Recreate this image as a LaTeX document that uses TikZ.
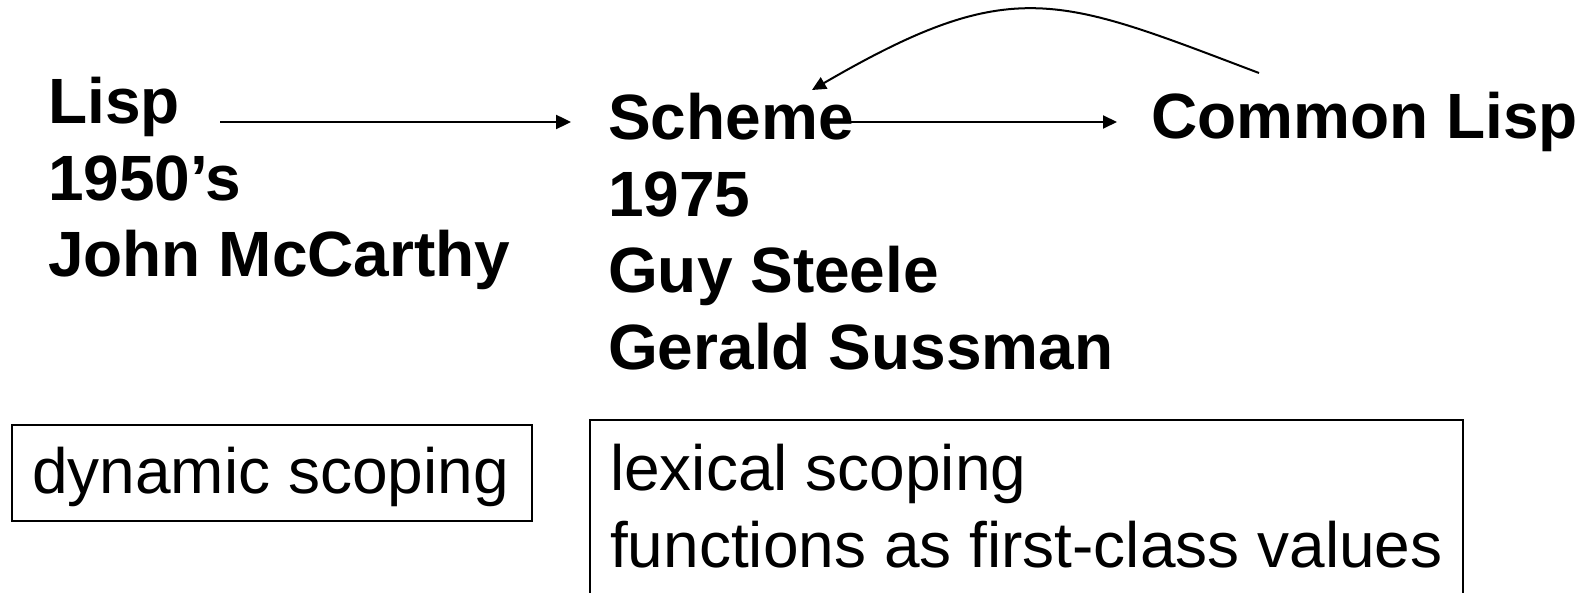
\documentclass[tikz,border=0pt]{standalone}
\usepackage{fontspec}
\setmainfont{Liberation Sans}
\usetikzlibrary{arrows.meta}
\begin{document}
\begin{tikzpicture}[x=1pt,y=1pt,
  bigtxt/.style={anchor=base west, inner sep=0pt, font=\fontsize{64}{76}\selectfont\bfseries},
  plaintxt/.style={anchor=base west, inner sep=0pt, font=\fontsize{64}{76}\selectfont},
  arr/.style={-{Triangle[length=15pt,width=14pt]}, line width=2.4pt},
  thinarr/.style={-{Triangle[length=14pt,width=13pt]}, line width=2pt},
  boxline/.style={line width=2.2pt}]
\useasboundingbox (0,0) rectangle (1585,592);
% Lisp block
\node[bigtxt] (lisp1) at (48,468) {Lisp};
\node[bigtxt] (lisp2) at (48,391) {1950’s};
\node[bigtxt] (lisp3) at (48,315) {John McCarthy};
% Scheme block
\node[bigtxt] (sch1) at (608,452) {Scheme};
\node[bigtxt] (sch2) at (608,375) {1975};
\node[bigtxt] (sch3) at (608,299) {Guy Steele};
\node[bigtxt] (sch4) at (608,222) {Gerald Sussman};
% Common Lisp
\node[bigtxt] (cl) at (1151,453) {Common Lisp};
% boxes
\draw[boxline] (12,71) rectangle (532,167);
\draw[boxline] (590,-4) -- (590,172) -- (1463,172) -- (1463,-4);
\node[plaintxt] (dyn) at (32,99) {dynamic scoping};
\node[plaintxt] (lex) at (610,101) {lexical scoping};
\node[plaintxt] (fun) at (610,25) {functions as first-class values};
% connectors
\draw[arr] ([shift={(40.4,2)}]lisp1.base east) -- ([shift={(-37,18)}]sch1.base west);
\draw[thinarr] ([shift={(-3,18)}]sch1.base east) -- ([shift={(-34,17)}]cl.base west);
\draw[thinarr] ([shift={(108,66)}]cl.base west) .. controls (1058,595) and (1013,619) .. ([shift={(204,50)}]sch1.base west);
\end{tikzpicture}
\end{document}
